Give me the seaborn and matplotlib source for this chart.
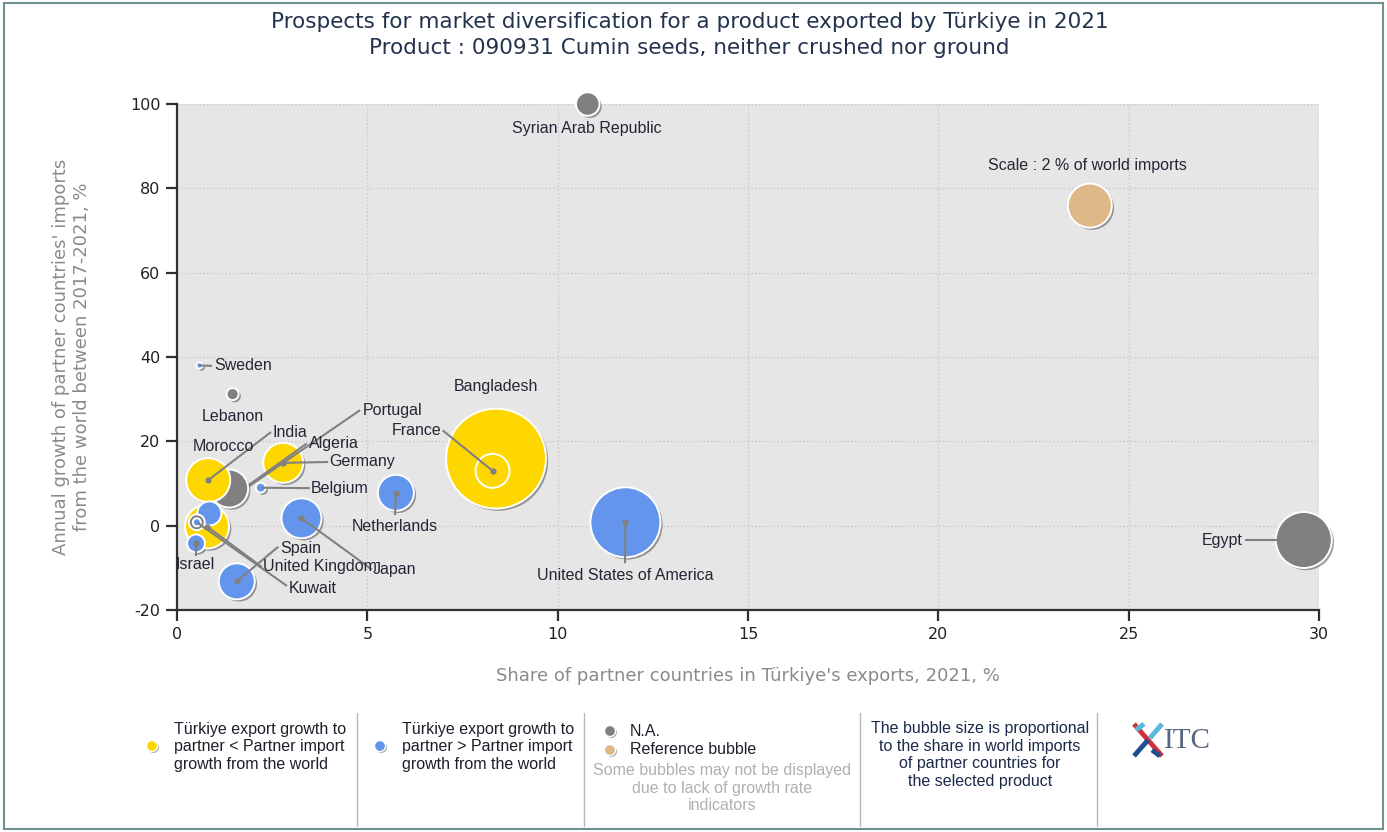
import pandas as pd
import seaborn as sns
import matplotlib.pyplot as plt
import matplotlib.patheffects as pe
from matplotlib.patches import Rectangle
from matplotlib.lines import Line2D

# Bubble data
countries = ['Syrian Arab Republic', 'Reference', 'Sweden', 'Lebanon', 'Bangladesh', 'France',
             'Egypt', 'United States of America', 'Netherlands', 'Japan', 'Spain', 'Germany',
             'Belgium', 'Morocco', 'India', 'United Kingdom', 'Portugal', 'Israel', 'Algeria', 'Kuwait']
export_share = [10.79, 23.98, 0.59, 1.46, 8.38, 8.29, 29.6, 11.78, 5.75, 3.27, 1.57, 2.79,
                2.2, 1.37, 0.82, 0.79, 0.85, 0.5, 0.52, 0.52]
import_growth = [100, 75.9, 38, 31.2, 15.9, 13.0, -3.4, 0.8, 7.8, 1.75, -13.2, 14.9,
                 9.0, 8.8, 10.8, -0.2, 2.9, -4.2, 0.8, 0.8]
world_share = [0.57, 2.0, 0.04, 0.15, 10.3, 1.19, 3.24, 5.06, 1.34, 1.65, 1.34, 1.65,
               0.10, 1.49, 2.0, 2.0, 0.6, 0.33, 0.26, 0.066]
group = ['na', 'ref', 'gt', 'na', 'lt', 'lt', 'na', 'gt', 'gt', 'gt', 'gt', 'lt',
         'gt', 'na', 'lt', 'lt', 'gt', 'gt', 'na', 'gt']
layer = [0, 0, 0, 0, 0, 0, 0, 0, 0, 0, 0, 0, 0, 1, 1, 1, 1, 1, 1, 1]

# Labels: text position, alignment, leader-line end (None = no line), line on top of bubbles
label_text = ['Syrian Arab Republic', 'Scale : 2 % of world imports', 'Sweden', 'Lebanon',
              'Bangladesh', 'France', 'Egypt', 'United States of America', 'Netherlands', 'Japan',
              'Spain', 'Germany', 'Belgium', 'Morocco', 'India', 'United Kingdom', 'Portugal',
              'Israel', 'Algeria', 'Kuwait']
label_x = [10.77, 23.93, 0.99, 1.47, 8.38, 6.95, 28.0, 11.77, 5.73, 5.14, 2.72, 3.99,
           3.52, 1.23, 2.52, 2.26, 4.87, 0.47, 3.46, 2.93]
label_y = [94.3, 85.5, 37.9, 26.0, 32.9, 22.6, -3.4, -11.7, -0.1, -10.5, -5.3, 15.1,
           8.9, 18.7, 22.2, -9.8, 27.2, -9.3, 19.6, -14.8]
label_ha = ['center', 'center', 'left', 'center', 'center', 'right', 'right', 'center',
            'center', 'left', 'left', 'left', 'left', 'center', 'left', 'left', 'left',
            'center', 'left', 'left']
line_x = [None, None, 0.92, None, None, 6.98, 28.05, 11.77, 5.73, 5.12, 2.66, 3.97,
          3.49, None, 2.47, 2.23, 4.81, 0.5, 3.41, 2.89]
line_y = [None, None, 37.9, None, None, 22.6, -3.4, -8.9, 2.5, -10.4, -5.0, 15.1,
          8.9, None, 22.2, -9.8, 27.4, -7.2, 19.5, -14.3]
line_top = [False, False, True, False, False, True, False, True, True, True, True, True,
            True, False, True, True, False, True, False, True]

df = pd.DataFrame({'country': countries, 'x': export_share, 'y': import_growth,
                   'share': world_share, 'group': group, 'layer': layer})

palette = {'lt': '#FFD700', 'gt': '#6495ED', 'na': '#808080', 'ref': '#DEB887'}

sns.set_style('white')
plt.rcParams['font.family'] = ['DejaVu Sans']
plt.rcParams['axes.unicode_minus'] = False

W, H = 1387, 832
fig = plt.figure(figsize=(W / 100, H / 100), dpi=100)
ax = fig.add_axes([177 / W, 1 - 610 / H, (1319 - 177) / W, (610 - 104) / H])
ax.set_facecolor('#e6e6e6')

shadow = [pe.SimplePatchShadow(offset=(1.6, -1.6), shadow_rgbFace='#505050', alpha=0.55), pe.Normal()]
for lay, z in [(0, 3), (1, 5)]:
    sub = df[df['layer'] == lay]
    sns.scatterplot(data=sub, x='x', y='y', hue='group', palette=palette, size='share',
                    sizes=(0, 6024), size_norm=(0, 12), edgecolor='white', linewidth=1.4,
                    legend=False, zorder=z, ax=ax, clip_on=False)
    ax.collections[-1].set_path_effects(shadow)

lab_font = dict(family=['Liberation Sans', 'DejaVu Sans'], fontsize=11.5, color='#252535')
for i, txt in enumerate(label_text):
    if line_x[i] is not None:
        z = 6 if line_top[i] else 4
        ax.plot([export_share[i], line_x[i]], [import_growth[i], line_y[i]],
                color='#808080', lw=1.5, zorder=z, solid_capstyle='butt')
        if line_top[i] and world_share[i] > 0.1:
            ax.plot(export_share[i], import_growth[i], 'o', ms=3.5, color='#808080', zorder=z)
    ax.text(label_x[i], label_y[i], txt, ha=label_ha[i], va='center', zorder=7, **lab_font)

ax.set_xlim(0, 30)
ax.set_ylim(-20, 100)
ax.set_xticks(range(0, 31, 5))
ax.set_yticks(range(-20, 101, 20))
ax.grid(True, color='#c8c8c8', linestyle=':', linewidth=1)
ax.set_axisbelow(True)
for s in ['top', 'right']:
    ax.spines[s].set_visible(False)
for s in ['left', 'bottom']:
    ax.spines[s].set_color('#303030')
    ax.spines[s].set_linewidth(1.6)
ax.tick_params(axis='both', direction='out', length=8, width=1.6, color='#303030',
               labelsize=11.5, labelcolor='#222222', pad=4)
ax.tick_params(left=True, bottom=True)

ax.set_xlabel("Share of partner countries in Türkiye's exports, 2021, %", fontsize=13,
              color='#8a8a8a', labelpad=18)
ax.set_ylabel("Annual growth of partner countries' imports\nfrom the world between 2017-2021, %",
              fontsize=13, color='#8a8a8a', labelpad=28)

fig.text(0.497, 1 - 22 / H, 'Prospects for market diversification for a product exported by Türkiye in 2021',
         ha='center', va='center', fontsize=15.5, color='#23334d')
fig.text(0.497, 1 - 48 / H, 'Product : 090931 Cumin seeds, neither crushed nor ground',
         ha='center', va='center', fontsize=15.5, color='#23334d')


def fx(px):
    return px / W


def fy(py):
    return 1 - py / H


# bottom legend
for sx in [357, 584, 860, 1097]:
    fig.add_artist(Line2D([fx(sx), fx(sx)], [fy(713), fy(826)], color='#b8b8b8', lw=1,
                          transform=fig.transFigure))

leg_font = dict(family=['Liberation Sans', 'DejaVu Sans'], fontsize=11.5, color='#1e1e2a')
dot_pe = [pe.SimplePatchShadow(offset=(1, -1), shadow_rgbFace='#505050', alpha=0.5), pe.Normal()]
for (px, py, col) in [(152, 746, palette['lt']), (380, 746, palette['gt']),
                      (610, 731, palette['na']), (610, 750, palette['ref'])]:
    fig.add_artist(Line2D([fx(px)], [fy(py)], marker='o', ms=8, color=col, mec='white', mew=1,
                          transform=fig.transFigure, path_effects=dot_pe))

fig.text(fx(174), fy(747), 'Türkiye export growth to\npartner < Partner import\ngrowth from the world',
         ha='left', va='center', linespacing=1.2, **leg_font)
fig.text(fx(402), fy(747), 'Türkiye export growth to\npartner > Partner import\ngrowth from the world',
         ha='left', va='center', linespacing=1.2, **leg_font)
fig.text(fx(630), fy(731), 'N.A.', ha='left', va='center', **leg_font)
fig.text(fx(630), fy(750), 'Reference bubble', ha='left', va='center', **leg_font)
fig.text(fx(722), fy(788), 'Some bubbles may not be displayed\ndue to lack of growth rate\nindicators',
         ha='center', va='center', linespacing=1.2, family=['Liberation Sans', 'DejaVu Sans'],
         fontsize=11.5, color='#b0b0b0')
fig.text(fx(980), fy(755), 'The bubble size is proportional\nto the share in world imports\n'
         'of partner countries for\nthe selected product',
         ha='center', va='center', linespacing=1.2, family=['Liberation Sans', 'DejaVu Sans'],
         fontsize=11.5, color='#1b2a4a')

# ITC logo
for (x0, y0, x1, y1, col) in [(1134, 724, 1162, 756, '#d0323c'), (1134, 756, 1148, 740, '#1f4e8c'),
                              (1150, 738, 1162, 724, '#5cb6de'), (1136, 730, 1144, 724, '#5cb6de'),
                              (1152, 750, 1160, 756, '#1f4e8c')]:
    fig.add_artist(Line2D([fx(x0), fx(x1)], [fy(y0), fy(y1)], color=col, lw=3.5,
                          transform=fig.transFigure, solid_capstyle='butt'))
fig.text(fx(1164), fy(741), 'ITC', ha='left', va='center', family=['Liberation Serif', 'DejaVu Serif'],
         fontsize=21, color='#56667e')

fig.add_artist(Rectangle((fx(4), fy(829)), fx(1383) - fx(4), fy(3) - fy(829), fill=False,
                         edgecolor='#6d9090', lw=1.5, transform=fig.transFigure))

fig.savefig('out.png', dpi=100)
